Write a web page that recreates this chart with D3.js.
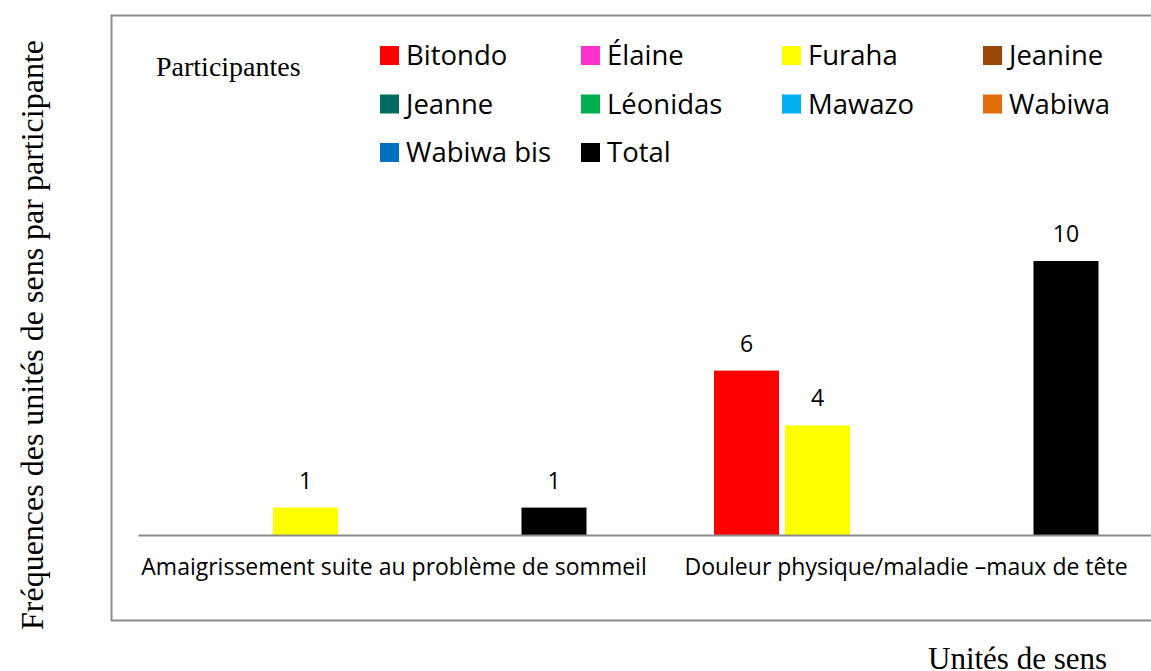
<!DOCTYPE html>
<html>
<head>
<meta charset="utf-8">
<script src="https://cdn.jsdelivr.net/npm/d3@7"></script>
<style>
  body { margin: 0; background: #fff; }
  .sans { font-family: "Open Sans", sans-serif; }
  .serif { font-family: "Liberation Serif", "Times New Roman", serif; }
</style>
</head>
<body>
<div id="chart"></div>
<script>
// Data
var categories = ["Amaigrissement suite au problème de sommeil", "Douleur physique/maladie –maux de tête"];
var participants = ["Bitondo", "Élaine", "Furaha", "Jeanine", "Jeanne", "Léonidas", "Mawazo", "Wabiwa", "Wabiwa bis", "Total"];
var colors = ["#FF0000", "#FF33CC", "#FFFF00", "#984807", "#006B5F", "#00B050", "#00B0F0", "#E36C0A", "#0070C0", "#000000"];
var bitondo = [0, 6];
var elaine = [0, 0];
var furaha = [1, 4];
var jeanine = [0, 0];
var jeanne = [0, 0];
var leonidas = [0, 0];
var mawazo = [0, 0];
var wabiwa = [0, 0];
var wabiwaBis = [0, 0];
var total = [1, 10];
var seriesValues = [bitondo, elaine, furaha, jeanine, jeanne, leonidas, mawazo, wabiwa, wabiwaBis, total];

var svgWidth = 1151;
var svgHeight = 671;

var svg = d3.select("#chart")
    .append("svg")
    .attr("width", svgWidth)
    .attr("height", svgHeight);

// chart frame (right side runs off the page)
svg.append("path")
    .attr("d", "M1160,15.5 H111.5 V620.5 H1160")
    .attr("fill", "none")
    .attr("stroke", "#8c8c8c")
    .attr("stroke-width", 2);

// flatten to one row per bar
var rows = [];
participants.forEach(function (p, i) {
    categories.forEach(function (c, j) {
        rows.push({ participant: p, category: c, value: seriesValues[i][j], color: colors[i] });
    });
});

// scales
var x0 = d3.scaleBand()
    .domain(categories)
    .range([138, 1162]);

var groupPad = 64;
var x1 = d3.scaleBand()
    .domain(participants)
    .range([0, x0.bandwidth() - 2 * groupPad - 29]);

var barWidth = 65;

var y = d3.scaleLinear()
    .domain([0, 10])
    .range([535, 261]);

// bars
svg.append("g")
    .selectAll("rect")
    .data(rows.filter(d => d.value > 0))
    .enter()
    .append("rect")
    .attr("x", d => x0(d.category) + groupPad + x1(d.participant))
    .attr("y", d => y(d.value))
    .attr("width", barWidth)
    .attr("height", d => y(0) - y(d.value))
    .attr("fill", d => d.color);

// value labels
svg.append("g")
    .selectAll("text")
    .data(rows.filter(d => d.value > 0))
    .enter()
    .append("text")
    .attr("class", "sans")
    .attr("x", d => x0(d.category) + groupPad + x1(d.participant) + barWidth / 2)
    .attr("y", d => y(d.value) - 19)
    .attr("text-anchor", "middle")
    .style("font-size", "23px")
    .style("fill", "#000")
    .text(d => d.value);

// x axis
var xAxis = svg.append("g")
    .attr("transform", `translate(0, ${y(0)})`)
    .call(d3.axisBottom(x0).tickSize(0).tickPadding(24));

xAxis.select(".domain")
    .attr("stroke", "#8c8c8c")
    .attr("stroke-width", 2);

xAxis.selectAll("text")
    .attr("class", "sans")
    .style("font-size", "23px")
    .style("fill", "#000");

// legend
svg.append("text")
    .attr("class", "serif")
    .attr("x", 156)
    .attr("y", 76)
    .style("font-size", "28px")
    .text("Participantes");

var legend = svg.append("g")
    .selectAll("g")
    .data(participants)
    .enter()
    .append("g")
    .attr("transform", (d, i) => `translate(${380 + (i % 4) * 201}, ${46 + Math.floor(i / 4) * 48.5})`);

legend.append("rect")
    .attr("width", 19)
    .attr("height", 19)
    .attr("fill", (d, i) => colors[i]);

legend.append("text")
    .attr("class", "sans")
    .attr("x", 26)
    .attr("y", 19)
    .style("font-size", "27.5px")
    .text(d => d);

// axis titles
svg.append("text")
    .attr("class", "serif")
    .attr("transform", "translate(43, 335) rotate(-90)")
    .attr("text-anchor", "middle")
    .style("font-size", "32px")
    .text("Fréquences des unités de sens par participante");

svg.append("text")
    .attr("class", "serif")
    .attr("x", 928)
    .attr("y", 669)
    .style("font-size", "31px")
    .text("Unités de sens");
</script>
</body>
</html>
